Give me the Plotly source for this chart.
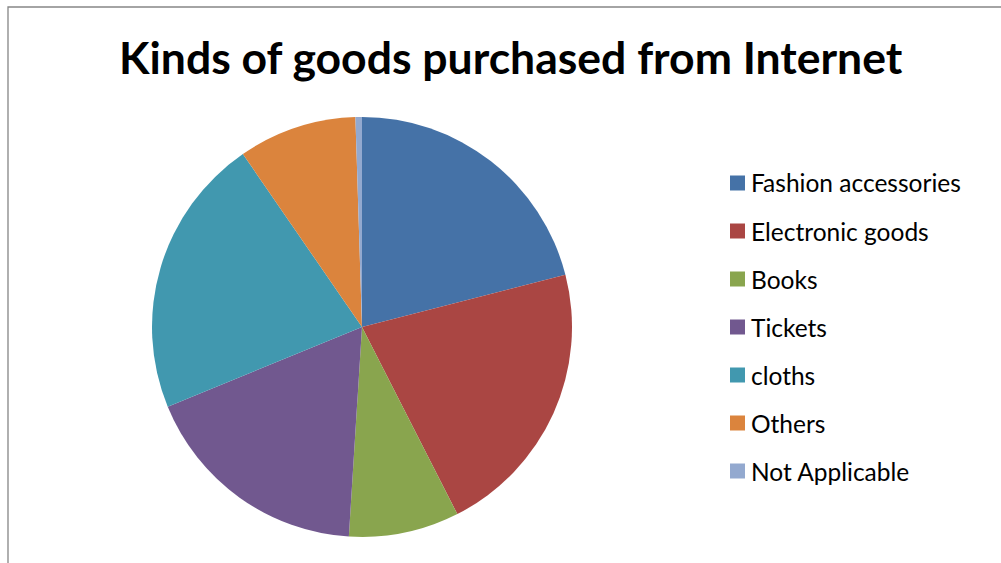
import plotly.graph_objects as go

# Share of respondents by kind of goods purchased online
categories = ["Fashion accessories", "Electronic goods", "Books", "Tickets",
              "cloths", "Others", "Not Applicable"]
shares = [21.0, 21.5, 8.5, 17.8, 21.6, 9.1, 0.5]
colors = ["#4572A7", "#AA4643", "#89A54E", "#71588F",
          "#4198AF", "#DB843D", "#93A9CF"]

W, H = 1001, 563
FONT = "Lato"

fig = go.Figure(go.Pie(
    labels=categories,
    values=shares,
    marker=dict(colors=colors, line=dict(width=0)),
    sort=False,
    direction="clockwise",
    rotation=0,
    textinfo="none",
    hoverinfo="label+percent",
    showlegend=False,
    domain=dict(x=[152 / W, 572 / W], y=[1 - 537 / H, 1 - 117 / H]),
))

# Legend drawn as swatches and labels
shapes = [dict(type="rect", xref="paper", yref="paper",
               x0=8 / W, x1=1.2, y0=-0.2, y1=1 - 7 / H,
               line=dict(color="#868686", width=1.3), fillcolor="rgba(0,0,0,0)")]
annotations = [dict(text="<b>Kinds of goods purchased from Internet</b>",
                    x=511 / W, y=1 - 57 / H, xref="paper", yref="paper",
                    xanchor="center", yanchor="middle", showarrow=False,
                    font=dict(family=FONT, size=44.5, color="#000000"))]
row0, step = 183, 48
for i, (name, col) in enumerate(zip(categories, colors)):
    yc = row0 + i * step
    shapes.append(dict(type="rect", xref="paper", yref="paper",
                       x0=730 / W, x1=745 / W,
                       y0=1 - (yc + 7.5) / H, y1=1 - (yc - 7.5) / H,
                       fillcolor=col, line=dict(width=0)))
    annotations.append(dict(text=name, x=749 / W, y=1 - yc / H,
                            xref="paper", yref="paper",
                            xanchor="left", yanchor="middle", showarrow=False,
                            font=dict(family=FONT, size=24.5, color="#000000")))

fig.update_layout(
    width=W, height=H,
    margin=dict(l=0, r=0, t=0, b=0),
    paper_bgcolor="white",
    plot_bgcolor="white",
    shapes=shapes,
    annotations=annotations,
)

fig.write_html("out.html")
